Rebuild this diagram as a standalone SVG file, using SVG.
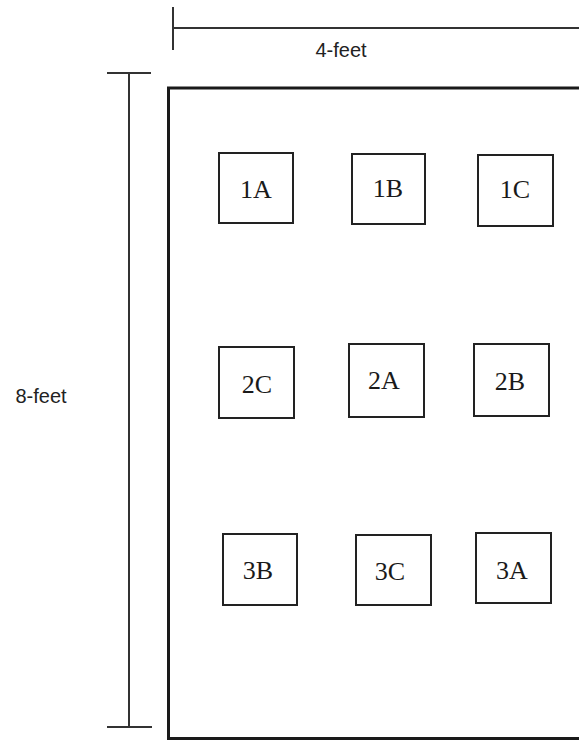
<svg xmlns="http://www.w3.org/2000/svg" width="579" height="740" viewBox="0 0 579 740">
<style>
.dim{stroke:#333;stroke-width:2;fill:none}
.frame{stroke:#1a1a1a;stroke-width:3;fill:none}
.box{stroke:#222;stroke-width:2;fill:#fff}
.lbl{font-family:"Liberation Serif","Times New Roman",serif;font-size:26px;fill:#1a1a1a;text-anchor:middle}
.dlbl{font-family:"Liberation Sans",Arial,sans-serif;font-size:20px;fill:#222;text-anchor:middle}
</style>
<rect width="579" height="740" fill="#fff"/>
<g id="dimensions">
<line class="dim" x1="173" y1="7" x2="173" y2="50"/>
<line class="dim" x1="173" y1="28" x2="579" y2="28"/>
<text class="dlbl" x="341" y="57">4-feet</text>
<line class="dim" x1="129" y1="73" x2="129" y2="727"/>
<line class="dim" x1="107" y1="73" x2="151" y2="73"/>
<line class="dim" x1="107" y1="727" x2="152" y2="727"/>
<text class="dlbl" x="41" y="403">8-feet</text>
</g>
<g id="frame">
<path class="frame" d="M581,88 H168.5 V738.5 H581"/>
</g>
<g id="n1A"><rect class="box" x="219" y="153" width="74" height="70"/><text class="lbl" x="256" y="198">1A</text></g>
<g id="n1B"><rect class="box" x="352" y="154" width="73" height="70"/><text class="lbl" x="388" y="197">1B</text></g>
<g id="n1C"><rect class="box" x="478" y="155" width="75" height="71"/><text class="lbl" x="515" y="198">1C</text></g>
<g id="n2C"><rect class="box" x="219" y="347" width="75" height="71"/><text class="lbl" x="257" y="393">2C</text></g>
<g id="n2A"><rect class="box" x="349" y="344" width="75" height="73"/><text class="lbl" x="384" y="389">2A</text></g>
<g id="n2B"><rect class="box" x="474" y="344" width="75" height="72"/><text class="lbl" x="510" y="390">2B</text></g>
<g id="n3B"><rect class="box" x="223" y="534" width="74" height="71"/><text class="lbl" x="258" y="579">3B</text></g>
<g id="n3C"><rect class="box" x="356" y="535" width="75" height="70"/><text class="lbl" x="390" y="580">3C</text></g>
<g id="n3A"><rect class="box" x="476" y="533" width="75" height="70"/><text class="lbl" x="512" y="579">3A</text></g>
<g id="connectors"></g>
</svg>
